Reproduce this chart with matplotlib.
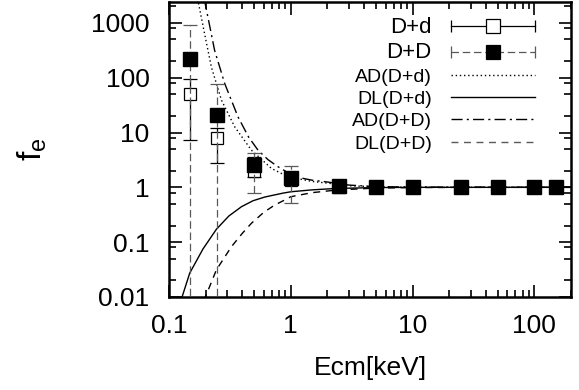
import matplotlib
matplotlib.use("Agg")
import matplotlib.pyplot as plt
from matplotlib.legend_handler import HandlerBase
from matplotlib.lines import Line2D
from matplotlib.ticker import LogLocator, NullFormatter

plt.rcParams['font.family'] = ['Liberation Sans', 'DejaVu Sans']

# measured enhancement factors
energy = [0.15, 0.25, 0.5, 1, 2.5, 5, 10, 25, 50, 100, 150]
fe_Dd = [51, 7.8, 2.0, 1.35, 1.03, 1.01, 1.0, 1.0, 1.0, 1.0, 1.0]
fe_Dd_lo = [7.25, 2.73, 1.56, 1.1, 1.0, 0.99, 0.99, 0.99, 0.99, 0.99, 0.99]
fe_Dd_hi = [93, 12.1, 3.6, 1.7, 1.06, 1.03, 1.01, 1.01, 1.01, 1.01, 1.01]
fe_DD = [221, 20.6, 2.54, 1.46, 1.05, 1.0, 1.0, 1.0, 1.0, 1.0, 1.0]
fe_DD_lo = [0.001, 0.001, 0.78, 0.51, 1.0, 0.98, 0.98, 0.98, 0.98, 0.98, 0.98]
fe_DD_hi = [930, 78, 4.3, 2.44, 1.1, 1.02, 1.02, 1.02, 1.02, 1.02, 1.02]

# model curves
ad_Dd_E = [0.15, 0.173, 0.196, 0.223, 0.27, 0.347, 0.475, 0.694, 0.893, 1.11, 1.5, 2.09, 3.0, 5, 10, 200]
ad_Dd_f = [12000, 2540, 631, 155, 38.7, 12.6, 4.77, 2.21, 1.67, 1.46, 1.28, 1.18, 1.07, 1.02, 1.0, 1.0]
ad_DD_E = [0.17, 0.196, 0.237, 0.287, 0.369, 0.45, 0.538, 0.65, 0.787, 1.08, 1.5, 2.0, 3.0, 5, 10, 200]
ad_DD_f = [12600, 2540, 313, 77.8, 19.2, 8.3, 4.77, 3.2, 2.37, 1.56, 1.35, 1.25, 1.1, 1.03, 1.01, 1.0]
dl_Dd_E = [0.115, 0.128, 0.148, 0.19, 0.245, 0.31, 0.394, 0.49, 0.611, 0.7, 0.865, 1.0, 1.5, 2.37, 5, 10, 200]
dl_Dd_f = [0.0048, 0.01, 0.0273, 0.075, 0.172, 0.3, 0.444, 0.57, 0.665, 0.71, 0.785, 0.83, 0.9, 0.955, 0.99, 1.0, 1.0]
dl_DD_E = [0.178, 0.199, 0.245, 0.326, 0.4, 0.475, 0.6, 0.738, 0.893, 1.0, 1.5, 2.37, 5, 10, 25, 200]
dl_DD_f = [0.0052, 0.01, 0.0313, 0.083, 0.145, 0.221, 0.35, 0.476, 0.588, 0.675, 0.8, 0.893, 0.97, 0.99, 1.0, 1.0]


class ErrHandler(HandlerBase):
    def __init__(self, mfc, ls, color):
        super().__init__()
        self.mfc = mfc
        self.ls = ls
        self.color = color

    def create_artists(self, legend, orig_handle, xdescent, ydescent,
                       width, height, fontsize, trans):
        y = height / 2 - ydescent
        x0, x1 = -xdescent, width - xdescent
        bar = Line2D([x0, x1], [y, y], color=self.color, ls=self.ls, lw=0.9)
        caps = Line2D([x0, x1], [y, y], ls='none', marker='|', ms=9,
                      mew=0.9, color=self.color)
        sq = Line2D([(x0 + x1) / 2], [y], ls='none', marker='s', ms=9.5,
                    mfc=self.mfc, mec='black', mew=0.9)
        for a in (bar, caps, sq):
            a.set_transform(trans)
        return [bar, caps, sq]


fig = plt.figure(figsize=(5.79, 3.9), dpi=100)
ax = fig.add_axes([169 / 579, 1 - 297 / 390, 402 / 579, 295 / 390])
ax.set_xscale('log')
ax.set_yscale('log')

dd_err = [[f - lo for f, lo in zip(fe_Dd, fe_Dd_lo)],
          [hi - f for f, hi in zip(fe_Dd, fe_Dd_hi)]]
DD_err = [[f - lo for f, lo in zip(fe_DD, fe_DD_lo)],
          [hi - f for f, hi in zip(fe_DD, fe_DD_hi)]]

ax.errorbar(energy, fe_Dd, yerr=dd_err, fmt='s', ms=9, mfc='white',
            mec='black', mew=0.9, ecolor='black', elinewidth=0.9,
            capsize=5, capthick=0.9, zorder=3)
eb = ax.errorbar(energy, fe_DD, yerr=DD_err, fmt='s', ms=10, mfc='black',
                 mec='black', ecolor='0.35', elinewidth=0.9,
                 capsize=5, capthick=0.9, zorder=4)
eb[2][0].set_linestyle((0, (6, 3)))

ax.plot(ad_Dd_E, ad_Dd_f, color='black', lw=1, ls=(0, (1, 2)), zorder=2)
ax.plot(dl_Dd_E, dl_Dd_f, color='black', lw=1, ls='-', zorder=2)
ax.plot(ad_DD_E, ad_DD_f, color='black', lw=1, ls=(0, (8, 3, 1.5, 3)), zorder=2)
ax.plot(dl_DD_E, dl_DD_f, color='black', lw=1, ls=(0, (5, 4)), zorder=2)

ax.set_xlim(0.1, 200)
ax.set_ylim(0.01, 2400)

ax.set_xticks([0.1, 1, 10, 100], labels=['0.1', '1', '10', '100'])
ax.set_yticks([0.01, 0.1, 1, 10, 100, 1000],
              labels=['0.01', '0.1', '1', '10', '100', '1000'])
ax.xaxis.set_minor_locator(LogLocator(base=10, subs=range(2, 10)))
ax.yaxis.set_minor_locator(LogLocator(base=10, subs=(2, 5, 8)))
ax.xaxis.set_minor_formatter(NullFormatter())
ax.yaxis.set_minor_formatter(NullFormatter())
ax.tick_params(which='both', direction='in', top=True, right=True,
               width=1.2, labelsize=19)
ax.tick_params(which='major', length=9, pad=12)
ax.tick_params(which='minor', length=5)
ax.tick_params(axis='y', which='major', pad=14)
for s in ax.spines.values():
    s.set_linewidth(1.8)

ax.set_xlabel('Ecm[keV]', fontsize=19, labelpad=13)
ax.set_ylabel('f$_\\mathregular{e}$', fontsize=24, labelpad=30)

p1 = Line2D([], [])
p2 = Line2D([], [])
handles = [p1, p2,
           Line2D([], [], color='black', lw=1, ls=(0, (1, 2))),
           Line2D([], [], color='black', lw=1, ls='-'),
           Line2D([], [], color='black', lw=1, ls=(0, (8, 3, 1.5, 3))),
           Line2D([], [], color='0.35', lw=1, ls=(0, (5, 4)))]
labels = ['D+d', 'D+D', 'AD(D+d)', 'DL(D+d)', 'AD(D+D)', 'DL(D+D)']
leg = ax.legend(handles, labels, loc='upper right', bbox_to_anchor=(0.91, 0.95),
                frameon=False, markerfirst=False, fontsize=14,
                handlelength=4.3, handletextpad=1.0, labelspacing=0.24,
                borderpad=0, borderaxespad=0,
                handler_map={p1: ErrHandler('white', '-', 'black'),
                             p2: ErrHandler('black', (0, (6, 3)), '0.35')})
for t in leg.get_texts()[:2]:
    t.set_fontsize(16)

fig.savefig('out.png', dpi=100)
